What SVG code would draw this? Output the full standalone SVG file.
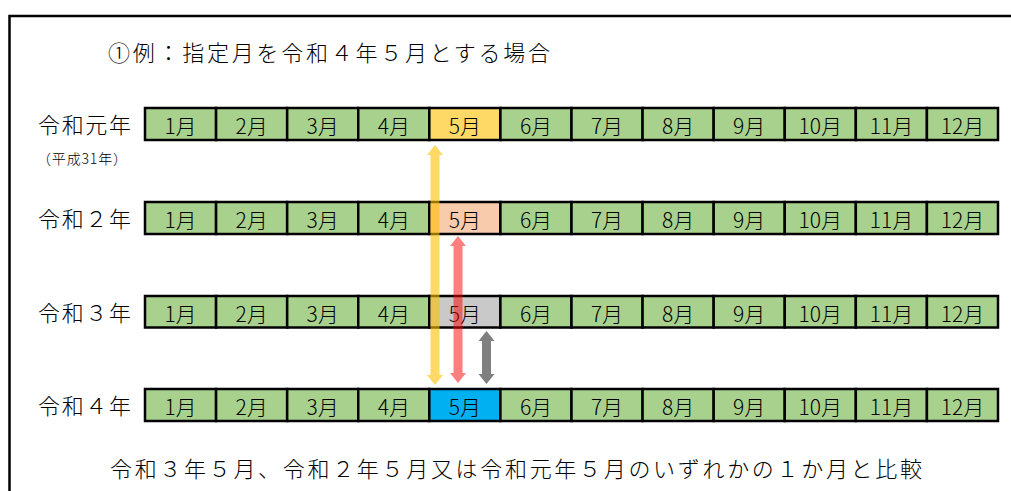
<svg xmlns="http://www.w3.org/2000/svg" width="1011" height="491" viewBox="0 0 1011 491">
<style>
text{font-family:"Noto Sans CJK JP","Noto Sans",sans-serif;fill:#000;font-weight:300}
.big{font-size:22px}
.lbl{font-size:22px}
.cell{font-size:21px;text-anchor:middle}
.small{font-size:14px}
rect.c{stroke:#000;stroke-width:2.5}
.g{fill:#A9D18E}
.y{fill:#FFD966}
.p{fill:#F8CBAD}
.s{fill:#C9C9C9}
.b{fill:#00B0F0}
</style>
<defs>
<g id="labels1">
<text class="cell" x="180.5">1月</text><text class="cell" x="251.6">2月</text><text class="cell" x="322.7">3月</text><text class="cell" x="393.8">4月</text><text class="cell" x="464.9">5月</text><text class="cell" x="536">6月</text><text class="cell" x="607">7月</text><text class="cell" x="678.1">8月</text><text class="cell" x="749.2">9月</text><text class="cell" x="820.3">10月</text><text class="cell" x="891.4">11月</text><text class="cell" x="962.5">12月</text>
</g>
</defs>
<rect width="1011" height="491" fill="#fff"/>
<g id="frame"><polyline points="9.5,491 9.5,16 1011,16" fill="none" stroke="#000" stroke-width="2.5"/></g>
<g id="title"><text class="big" x="108" y="61" textLength="442" lengthAdjust="spacing">①例：指定月を令和４年５月とする場合</text></g>

<g id="row1">
<text class="lbl" x="38" y="133" textLength="93" lengthAdjust="spacing">令和元年</text>
<text class="small" x="37" y="164" textLength="90" lengthAdjust="spacing">（平成31年）</text>
<g transform="translate(0,108)">
<rect class="c g" x="145" y="0" width="71.08" height="32"/><rect class="c g" x="216.08" y="0" width="71.08" height="32"/><rect class="c g" x="287.17" y="0" width="71.08" height="32"/><rect class="c g" x="358.25" y="0" width="71.08" height="32"/><rect class="c y" x="429.33" y="0" width="71.08" height="32"/><rect class="c g" x="500.42" y="0" width="71.08" height="32"/><rect class="c g" x="571.5" y="0" width="71.08" height="32"/><rect class="c g" x="642.58" y="0" width="71.08" height="32"/><rect class="c g" x="713.67" y="0" width="71.08" height="32"/><rect class="c g" x="784.75" y="0" width="71.08" height="32"/><rect class="c g" x="855.83" y="0" width="71.08" height="32"/><rect class="c g" x="926.92" y="0" width="71.08" height="32"/>
<use href="#labels1" y="26"/>
</g>
</g>

<g id="row2">
<text class="lbl" x="38" y="227" textLength="93" lengthAdjust="spacing">令和２年</text>
<g transform="translate(0,202)">
<rect class="c g" x="145" y="0" width="71.08" height="32"/><rect class="c g" x="216.08" y="0" width="71.08" height="32"/><rect class="c g" x="287.17" y="0" width="71.08" height="32"/><rect class="c g" x="358.25" y="0" width="71.08" height="32"/><rect class="c p" x="429.33" y="0" width="71.08" height="32"/><rect class="c g" x="500.42" y="0" width="71.08" height="32"/><rect class="c g" x="571.5" y="0" width="71.08" height="32"/><rect class="c g" x="642.58" y="0" width="71.08" height="32"/><rect class="c g" x="713.67" y="0" width="71.08" height="32"/><rect class="c g" x="784.75" y="0" width="71.08" height="32"/><rect class="c g" x="855.83" y="0" width="71.08" height="32"/><rect class="c g" x="926.92" y="0" width="71.08" height="32"/>
<use href="#labels1" y="26"/>
</g>
</g>

<g id="row3">
<text class="lbl" x="38" y="321" textLength="93" lengthAdjust="spacing">令和３年</text>
<g transform="translate(0,296)">
<rect class="c g" x="145" y="0" width="71.08" height="31.5"/><rect class="c g" x="216.08" y="0" width="71.08" height="31.5"/><rect class="c g" x="287.17" y="0" width="71.08" height="31.5"/><rect class="c g" x="358.25" y="0" width="71.08" height="31.5"/><rect class="c s" x="429.33" y="0" width="71.08" height="31.5"/><rect class="c g" x="500.42" y="0" width="71.08" height="31.5"/><rect class="c g" x="571.5" y="0" width="71.08" height="31.5"/><rect class="c g" x="642.58" y="0" width="71.08" height="31.5"/><rect class="c g" x="713.67" y="0" width="71.08" height="31.5"/><rect class="c g" x="784.75" y="0" width="71.08" height="31.5"/><rect class="c g" x="855.83" y="0" width="71.08" height="31.5"/><rect class="c g" x="926.92" y="0" width="71.08" height="31.5"/>
<use href="#labels1" y="26"/>
</g>
</g>

<g id="row4">
<text class="lbl" x="38" y="414" textLength="93" lengthAdjust="spacing">令和４年</text>
<g transform="translate(0,389)">
<rect class="c g" x="145" y="0" width="71.08" height="32"/><rect class="c g" x="216.08" y="0" width="71.08" height="32"/><rect class="c g" x="287.17" y="0" width="71.08" height="32"/><rect class="c g" x="358.25" y="0" width="71.08" height="32"/><rect class="c b" x="429.33" y="0" width="71.08" height="32"/><rect class="c g" x="500.42" y="0" width="71.08" height="32"/><rect class="c g" x="571.5" y="0" width="71.08" height="32"/><rect class="c g" x="642.58" y="0" width="71.08" height="32"/><rect class="c g" x="713.67" y="0" width="71.08" height="32"/><rect class="c g" x="784.75" y="0" width="71.08" height="32"/><rect class="c g" x="855.83" y="0" width="71.08" height="32"/><rect class="c g" x="926.92" y="0" width="71.08" height="32"/>
<use href="#labels1" y="26"/>
</g>
</g>

<g id="connectors">
<polygon fill="#FFC000" fill-opacity="0.6" points="435,145 443,155 439.5,155 439.5,375 443,375 435,385 427,375 430.5,375 430.5,155 427,155"/>
<polygon fill="#FF0000" fill-opacity="0.5" points="458,236 466,246 462.5,246 462.5,373 466,373 458,383 450,373 453.5,373 453.5,246 450,246"/>
<polygon fill="#7F7F7F" points="486.5,331 494.5,341 491,341 491,374 494.5,374 486.5,384 478.5,374 482,374 482,341 478.5,341"/>
</g>

<g id="note"><text class="big" x="110" y="477" textLength="812" lengthAdjust="spacing">令和３年５月、令和２年５月又は令和元年５月のいずれかの１か月と比較</text></g>
</svg>
